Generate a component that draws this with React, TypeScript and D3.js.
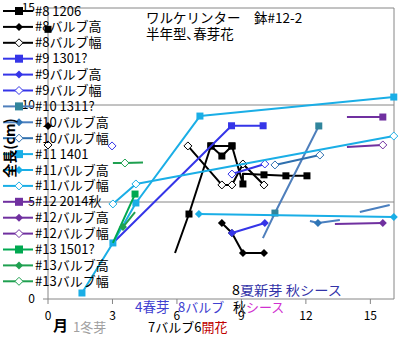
import React from "react";
import * as d3 from "d3";

type Pt = [number, number] | null;

// x tick values (months) and y tick values (cm)
const xTicks = [0, 3, 6, 9, 12, 15];
const yTicks = [0, 5, 10, 15];

// #8
const s8Len: Pt[] = [[0, 13.9], null, [5.91, 2.37], [6.56, 4.38], [7.58, 7.89], [8.56, 7.89], [9.07, 5.93], [9.07, 6.45], [10.05, 6.4], [11.07, 6.35], [12.05, 6.35], null, [7.58, 7.89], [8.09, 7.37], [8.56, 7.89]];
const s8H: Pt[] = [[0, 8.92], null, [8.09, 3.92], [8.56, 3.4], [9.07, 2.37], [10.05, 2.37]];
const s8W: Pt[] = [[0, 7.94], null, [6.51, 7.89], [8.09, 5.88], [8.56, 5.88], [9.07, 6.96], [10.05, 5.88]];
// #9
const s9Len: Pt[] = [[3.02, 2.89], [8.54, 8.93], [10.01, 8.93]];
const s9H: Pt[] = [[8.56, 3.4], [10.09, 3.92]];
const s9W: Pt[] = [[2.98, 7.89], null, [8.56, 6.44], [10.09, 6.96]];
// #10
const s10Len: Pt[] = [[10.0, 3.14], [10.56, 4.43], [12.6, 8.92]];
const s10H: Pt[] = [[12.19, 4.02], [12.56, 3.92], [13.58, 4.07], null, [14.51, 4.48], [15.9, 4.85]];
const s10W: Pt[] = [[10.56, 6.91], [12.65, 7.42]];
// #11
const s11Len: Pt[] = [[1.58, 0.31], [3.02, 2.89], [4.09, 4.95], [7.07, 9.43], [16.09, 10.41]];
const s11H: Pt[] = [[7.02, 4.38], [16.09, 4.23]];
const s11W: Pt[] = [[3.02, 4.9], [4.09, 5.93], [16.09, 8.4]];
// #12
const s12Len: Pt[] = [[13.91, 9.38], [15.58, 9.38]];
const s12H: Pt[] = [[13.35, 3.87], [15.58, 3.92]];
const s12W: Pt[] = [[13.91, 7.84], [15.58, 7.94]];
// #13
const s13Len: Pt[] = [[3.02, 2.89], [4.05, 5.41]];
const s13H: Pt[] = [[3.49, 3.71], [4.05, 4.48]];
const s13W: Pt[] = [[3.02, 7.01], [3.58, 7.01], [4.42, 7.04]];

const seriesNames = [
  "#8 1206", "#8バルブ高", "#8バルブ幅",
  "#9 1301?", "#9バルブ高", "#9バルブ幅",
  "#10 1311?", "#10バルブ高", "#10バルブ幅",
  "#11 1401", "#11バルブ高", "#11バルブ幅",
  "#12 2014秋", "#12バルブ高", "#12バルブ幅",
  "#13 1501?", "#13バルブ高", "#13バルブ幅",
];
const seriesData: Pt[][] = [
  s8Len, s8H, s8W, s9Len, s9H, s9W, s10Len, s10H, s10W,
  s11Len, s11H, s11W, s12Len, s12H, s12W, s13Len, s13H, s13W,
];
// points drawn without a marker (index within each series)
const hiddenMarkers: number[][] = [
  [2, 7], [], [], [0], [], [], [0], [0, 2, 4, 5], [],
  [], [], [], [0], [0], [0], [0], [1], [0, 2],
];

const lineColors = [
  "#000000", "#000000", "#000000",
  "#3535e8", "#3535e8", "#3535e8",
  "#4f7fbc", "#4a7fbf", "#2e6fae",
  "#1aaee6", "#1aaee6", "#1aaee6",
  "#7030a0", "#7030a0", "#7030a0",
  "#00a850", "#1fa050", "#1fa050",
];
const markerColors = [
  "#000000", "#000000", "#000000",
  "#3535e8", "#3535e8", "#3535e8",
  "#31859c", "#2e75b6", "#2e6fae",
  "#1aaee6", "#1aaee6", "#1aaee6",
  "#7030a0", "#7030a0", "#7030a0",
  "#00a850", "#1fa050", "#1fa050",
];
const markerTypes = ["square", "diamond", "open"];

const FONT = "'Noto Sans CJK JP', 'Noto Sans', sans-serif";

function Marker({ type, cx, cy, color, size }: { type: string; cx: number; cy: number; color: string; size: number }) {
  if (type === "square") {
    return <rect x={cx - size / 2} y={cy - size / 2} width={size} height={size} fill={color} />;
  }
  const r = size / 2 + 0.5;
  const d = `M${cx},${cy - r}L${cx + r},${cy}L${cx},${cy + r}L${cx - r},${cy}Z`;
  if (type === "diamond") return <path d={d} fill={color} />;
  return <path d={d} fill="#ffffff" stroke={color} strokeWidth={1} />;
}

export default function App() {
  const W = 409, H = 341;
  const x = d3.scaleLinear().domain([0, 16.1]).range([48, 394]);
  const y = d3.scaleLinear().domain([0, 15]).range([299, 8]);
  const line = d3
    .line<Pt>()
    .defined((d) => d !== null)
    .x((d) => x((d as [number, number])[0]))
    .y((d) => y((d as [number, number])[1]));

  const axisColor = "#868686";

  return (
    <svg width={W} height={H} style={{ position: "absolute", left: 0, top: 0, background: "#fff" }} fontFamily={FONT}>
      <rect x={0} y={0} width={W} height={H} fill="#fff" />
      {/* gridlines */}
      {yTicks.filter((t) => t > 0).map((t) => (
        <line key={"g" + t} x1={x(0)} x2={x(16.1)} y1={y(t)} y2={y(t)} stroke={axisColor} strokeWidth={1} />
      ))}
      <line x1={x(16.1)} x2={x(16.1)} y1={y(15)} y2={y(0)} stroke={axisColor} strokeWidth={1} />
      {/* axes */}
      <line x1={x(0)} x2={x(0)} y1={y(15)} y2={y(0)} stroke={axisColor} strokeWidth={1} />
      <line x1={x(0)} x2={x(16.1)} y1={y(0)} y2={y(0)} stroke={axisColor} strokeWidth={1} />
      {yTicks.map((t) => (
        <g key={"yt" + t}>
          <line x1={x(0) - 5} x2={x(0)} y1={y(t)} y2={y(t)} stroke={axisColor} />
          <text x={35} y={y(t)} dy="0.35em" textAnchor="end" fontSize={12} fill="#000">{t}</text>
        </g>
      ))}
      {xTicks.map((t) => (
        <g key={"xt" + t}>
          <line x1={x(t)} x2={x(t)} y1={y(0)} y2={y(0) + 5} stroke={axisColor} />
          <text x={x(t)} y={316} dy="0.35em" textAnchor="middle" fontSize={12} fill="#000">{t}</text>
        </g>
      ))}

      {/* series */}
      {seriesData.map((data, i) => (
        <g key={"s" + i}>
          <path d={line(data) || ""} fill="none" stroke={lineColors[i]} strokeWidth={2} strokeLinejoin="round" />
          {data.map((p, j) =>
            p && !hiddenMarkers[i].includes(j) ? (
              <Marker key={j} type={markerTypes[i % 3]} cx={x(p[0])} cy={y(p[1])} color={markerColors[i]} size={7} />
            ) : null
          )}
        </g>
      ))}

      {/* legend */}
      {seriesNames.map((name, i) => {
        const ly = 11 + i * 15.9;
        return (
          <g key={"l" + i}>
            <line x1={3} x2={33} y1={ly} y2={ly} stroke={lineColors[i]} strokeWidth={2} />
            <Marker type={markerTypes[i % 3]} cx={19} cy={ly} color={markerColors[i]} size={i % 3 === 0 ? 8 : 7} />
            <text x={35} y={ly} dy="0.35em" fontSize={13} fill="#000">{name}</text>
          </g>
        );
      })}

      {/* title */}
      <text x={146} y={23} fontSize={13.5} fill="#000">ワルケリンター　鉢#12-2</text>
      <text x={146} y={39} fontSize={13.5} fill="#000">半年型､春芽花</text>

      {/* y axis title */}
      <text transform="translate(15,148) rotate(-90)" textAnchor="middle" fontSize={14} fontWeight="bold" fill="#000">全長(cm)</text>

      {/* annotations */}
      <text x={232} y={295} fontSize={13} textLength={110} lengthAdjust="spacingAndGlyphs">
        <tspan fill="#000">8</tspan>
        <tspan fill="#3333a8">夏新芽 秋シース</tspan>
      </text>
      <text x={135} y={312} fontSize={13.5} fill="#4040d0">4春芽</text>
      <text x={178} y={312} fontSize={13} fill="#4040d0">8バルブ</text>
      <text x={233} y={312} fontSize={13} fill="#000">秋</text>
      <text x={246} y={312} fontSize={13} fill="#d030d0">シース</text>
      <text x={148} y={332} fontSize={13}>
        <tspan fill="#000">7バルブ6</tspan>
        <tspan fill="#c00000">開花</tspan>
      </text>
      <text x={53} y={331} fontSize={15} fontWeight="bold" fill="#000">月</text>
      <text x={73} y={332} fontSize={13} fill="#a0a0a0">1冬芽</text>
    </svg>
  );
}
